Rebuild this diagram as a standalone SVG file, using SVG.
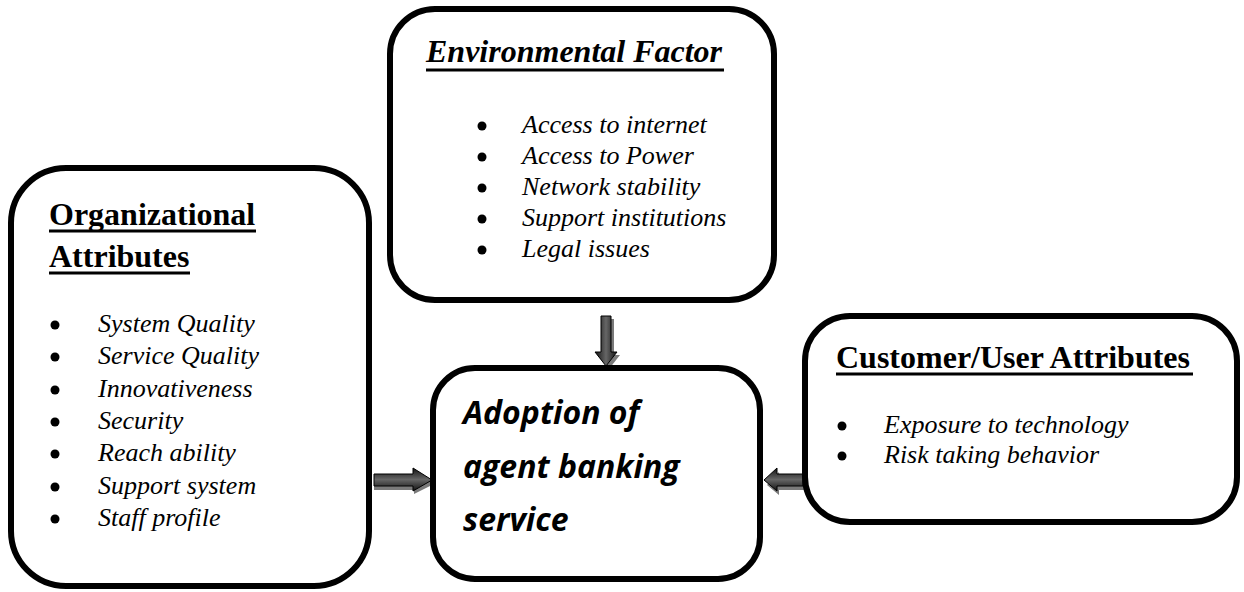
<svg xmlns="http://www.w3.org/2000/svg" width="1244" height="592" viewBox="0 0 1244 592">
  <defs>
    <style>
      .box { fill: #ffffff; stroke: #000000; stroke-width: 6; }
      .head { font-family: "Liberation Serif", "Times New Roman", serif; font-size: 32px; font-weight: bold; fill: #000; }
      .rule { stroke: #000; stroke-width: 3; }
      .item { font-family: "Liberation Serif", "Times New Roman", serif; font-size: 26px; font-style: italic; fill: #000; }
      .dot { fill: #000; }
      .core { font-family: "Open Sans", "Noto Sans", sans-serif; font-size: 32px; font-weight: bold; font-style: italic; fill: #000; }
      .arrow { stroke: #000; stroke-width: 1; }
      .shadow { fill: #7a7a7a; }
    </style>
    <linearGradient id="shadeV" x1="0" y1="0" x2="1" y2="0">
      <stop offset="0" stop-color="#111"/>
      <stop offset="0.5" stop-color="#666"/>
      <stop offset="1" stop-color="#111"/>
    </linearGradient>
    <linearGradient id="shadeH" x1="0" y1="0" x2="0" y2="1">
      <stop offset="0" stop-color="#111"/>
      <stop offset="0.5" stop-color="#666"/>
      <stop offset="1" stop-color="#111"/>
    </linearGradient>
  </defs>

  <!-- block arrows feeding the central box -->
  <g id="connectors">
    <!-- top: environmental factor -> adoption -->
    <polygon class="shadow" points="605,319 614,319 614,355 620,355 609,369 598,355 605,355"/>
    <polygon class="arrow" fill="url(#shadeV)" points="601,316 611,316 611,352 617,352 606,366 595,352 601,352"/>
    <!-- left: organizational attributes -> adoption -->
    <polygon class="shadow" points="374,478 414,478 414,472 434,484 414,494 414,490 374,490"/>
    <polygon class="arrow" fill="url(#shadeH)" points="374,474 413,474 413,468 432,480 413,491 413,486 374,486"/>
    <!-- right: customer/user attributes -> adoption -->
    <polygon class="shadow" points="805,478 779,478 779,472 767,485 779,495 779,490 805,490"/>
    <polygon class="arrow" fill="url(#shadeH)" points="803,474 777,474 777,468 764,480 777,491 777,486 803,486"/>
  </g>

  <g id="organizational">
    <rect class="box" x="11" y="168" width="358" height="418" rx="55" ry="55"/>
    <text class="head" x="49" y="225">Organizational</text>
    <line class="rule" x1="49" y1="231" x2="256" y2="231"/>
    <text class="head" x="49" y="267">Attributes</text>
    <line class="rule" x1="49" y1="273" x2="190" y2="273"/>
    <circle class="dot" cx="55" cy="325" r="4.5"/><text class="item" x="98" y="332">System Quality</text>
    <circle class="dot" cx="55" cy="357" r="4.5"/><text class="item" x="98" y="364">Service Quality</text>
    <circle class="dot" cx="55" cy="390" r="4.5"/><text class="item" x="98" y="397">Innovativeness</text>
    <circle class="dot" cx="55" cy="422" r="4.5"/><text class="item" x="98" y="429">Security</text>
    <circle class="dot" cx="55" cy="454" r="4.5"/><text class="item" x="98" y="461">Reach ability</text>
    <circle class="dot" cx="55" cy="487" r="4.5"/><text class="item" x="98" y="494">Support system</text>
    <circle class="dot" cx="55" cy="519" r="4.5"/><text class="item" x="98" y="526">Staff profile</text>
  </g>

  <g id="environmental">
    <rect class="box" x="390" y="9" width="384" height="291" rx="45" ry="45"/>
    <text class="head" x="426" y="62" font-style="italic">Environmental Factor</text>
    <line class="rule" x1="426" y1="70" x2="724" y2="70"/>
    <circle class="dot" cx="482" cy="126" r="4.5"/><text class="item" x="522" y="133">Access to internet</text>
    <circle class="dot" cx="482" cy="157" r="4.5"/><text class="item" x="522" y="164">Access to Power</text>
    <circle class="dot" cx="482" cy="188" r="4.5"/><text class="item" x="522" y="195">Network stability</text>
    <circle class="dot" cx="482" cy="219" r="4.5"/><text class="item" x="522" y="226">Support institutions</text>
    <circle class="dot" cx="482" cy="250" r="4.5"/><text class="item" x="522" y="257">Legal issues</text>
  </g>

  <g id="adoption">
    <rect class="box" x="433" y="368" width="327" height="211" rx="42" ry="42"/>
    <text class="core" x="463" y="424">Adoption of</text>
    <text class="core" x="463" y="478">agent banking</text>
    <text class="core" x="463" y="531">service</text>
  </g>

  <g id="customer">
    <rect class="box" x="805" y="316" width="432" height="206" rx="45" ry="45"/>
    <text class="head" x="836" y="368">Customer/User Attributes</text>
    <line class="rule" x1="836" y1="374" x2="1193" y2="374"/>
    <circle class="dot" cx="842" cy="426" r="4.5"/><text class="item" x="884" y="433">Exposure to technology</text>
    <circle class="dot" cx="842" cy="456" r="4.5"/><text class="item" x="884" y="463">Risk taking behavior</text>
  </g>
</svg>
